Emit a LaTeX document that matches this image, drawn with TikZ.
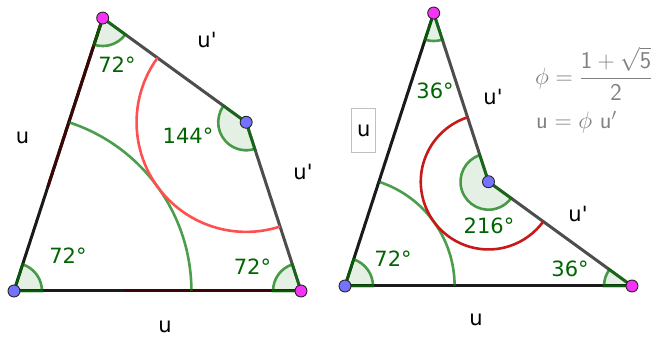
\documentclass[tikz,border=0pt]{standalone}
\usepackage{fontspec}
\usetikzlibrary{calc}
\newfontfamily\labfont[Ligatures=TeXOff]{DejaVu Sans}
\definecolor{anggreen}{RGB}{0,100,0}
\definecolor{arcgreen}{RGB}{0,115,0}
\definecolor{edgegray}{RGB}{77,77,77}
\definecolor{edgedark}{RGB}{26,26,26}
\definecolor{edgemaroon}{RGB}{58,6,6}
\definecolor{redlight}{RGB}{255,80,80}
\definecolor{reddark}{RGB}{200,25,25}
\definecolor{ptmag}{RGB}{245,50,245}
\definecolor{ptblue}{RGB}{115,115,255}
\definecolor{formgray}{RGB}{128,128,128}
\definecolor{boxgray}{RGB}{192,192,192}
\begin{document}
\begin{tikzpicture}[x=1pt,y=1pt,font=\labfont\fontsize{21}{25}\selectfont]
% Page frame in pixels of the reference, y pointing up.
\useasboundingbox (0,0) rectangle (658,337);

\tikzset{
  edge/.style={edgegray,line width=3pt,line join=round},
  edgek/.style={edgedark,line width=3pt},
  edgem/.style={edgemaroon,line width=3pt},
  sect/.style={fill=arcgreen,fill opacity=0.11,draw=arcgreen,draw opacity=0.7,line width=2.6pt},
  bigarc/.style={arcgreen,draw opacity=0.7,line width=2.6pt},
  redarc/.style={line width=2.6pt},
  pt/.style={circle,draw=black!85,line width=0.9pt,inner sep=0pt,minimum size=12pt},
  mag/.style={fill=ptmag}, blu/.style={fill=ptblue},
  lab/.style={anchor=base,inner sep=0pt},
  ang/.style={lab,text=anggreen},
  note/.style={inner sep=0pt,text=formgray,scale=1.15,transform shape}
}

% Kite: u = 287, u' = u/phi.
\coordinate (A) at (14,46);
\coordinate (B) at (301,46);
\coordinate (C) at ($(A)+(72:287)$);
\coordinate (D) at ($(B)+(108:177.4)$);
\coordinate (Cm) at ($(C)+(252:177.4)$);
\coordinate (Bm) at ($(B)+(180:177.4)$);
\draw[edgek] (A) -- (B);
\draw[edgek] (A) -- (C);
\draw[edgem] (C) -- (Cm);
\draw[edgem] (B) -- (Bm);
\draw[edge] (C) -- (D) -- (B);
\draw[bigarc] ($(A)+(0:177.4)$) arc[start angle=0,end angle=72,radius=177.4];
\draw[redarc,redlight] ($(D)+(144:109.6)$) arc[start angle=144,end angle=288,radius=109.6];
\draw[sect] (A) -- ++(0:28) arc[start angle=0,end angle=72,radius=28] -- cycle;
\draw[sect] (B) -- ++(108:28) arc[start angle=108,end angle=180,radius=28] -- cycle;
\draw[sect] (C) -- ++(252:28) arc[start angle=252,end angle=324,radius=28] -- cycle;
\draw[sect] (D) -- ++(144:28) arc[start angle=144,end angle=288,radius=28] -- cycle;
\node[pt,blu] (pA) at (A) {};
\node[pt,mag] (pB) at (B) {};
\node[pt,mag] (pC) at (C) {};
\node[pt,blu] (pD) at (D) {};
\node[lab] (ku1) at (22.5,193.7) {u};
\node[lab] (ku2) at (207,289.7) {u'};
\node[lab] (ku3) at (303,157) {u'};
\node[lab] (ku4) at (165,4.3) {u};
\node[ang] (ka1) at (117,264.3) {72°};
\node[ang] (ka2) at (188,193.7) {144°};
\node[ang] (ka3) at (68,73.7) {72°};
\node[ang] (ka4) at (252.5,62) {72°};

% Dart.
\coordinate (P) at (345,51);
\coordinate (Q) at (632,51);
\coordinate (R) at ($(P)+(72:287)$);
\coordinate (S) at ($(Q)+(144:177.4)$);
\draw[edgek] (P) -- (Q);
\draw[edgek] (P) -- (R);
\draw[edge] (R) -- (S) -- (Q);
\draw[bigarc] ($(P)+(0:109.6)$) arc[start angle=0,end angle=72,radius=109.6];
\draw[redarc,reddark] ($(S)+(108:67.7)$) arc[start angle=108,end angle=324,radius=67.7];
\draw[sect] (P) -- ++(0:28) arc[start angle=0,end angle=72,radius=28] -- cycle;
\draw[sect] (Q) -- ++(144:28) arc[start angle=144,end angle=180,radius=28] -- cycle;
\draw[sect] (R) -- ++(252:28) arc[start angle=252,end angle=288,radius=28] -- cycle;
\draw[sect] (S) -- ++(108:28) arc[start angle=108,end angle=324,radius=28] -- cycle;
\node[pt,blu] (pP) at (P) {};
\node[pt,mag] (pQ) at (Q) {};
\node[pt,mag] (pR) at (R) {};
\node[pt,blu] (pS) at (S) {};
\node[draw=boxgray,line width=1.5pt,inner sep=0pt,minimum width=24pt,minimum height=44pt] (du1) at (363.7,206.5) {u};
\node[lab] (du2) at (493,232) {u'};
\node[lab] (du3) at (578,115.3) {u'};
\node[lab] (du4) at (476,12) {u};
\node[ang] (da1) at (435,238.7) {36°};
\node[ang] (da2) at (489,103.7) {216°};
\node[ang] (da3) at (393,70.3) {72°};
\node[ang] (da4) at (570,60.3) {36°};

% Golden ratio note.
\node[note,anchor=west] (phi) at (535,263) {$\displaystyle\phi=\frac{\mathsf{1}+\sqrt{\mathsf{5}}}{\mathsf{2}}$};
\node[note,anchor=base west] (ueq) at (536,208) {$\mathsf{u}=\phi\ \mathsf{u}'$};
\end{tikzpicture}
\end{document}
